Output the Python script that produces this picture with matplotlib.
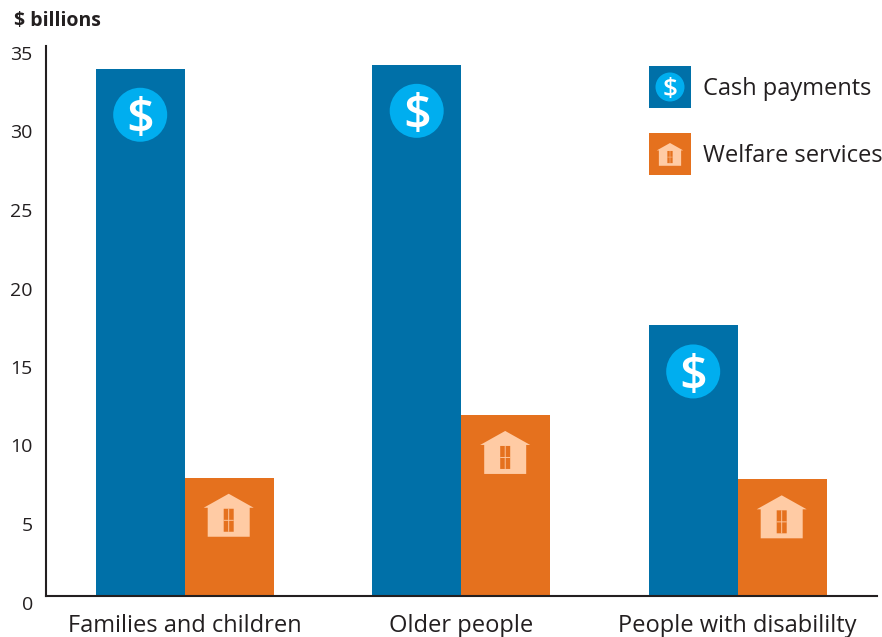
import numpy as np
import matplotlib
matplotlib.use('Agg')
import matplotlib.pyplot as plt
from matplotlib.patches import Circle, Polygon, Rectangle
from matplotlib.transforms import IdentityTransform

plt.rcParams['font.family'] = ['Open Sans', 'DejaVu Sans']

categories = ['Families and children', 'Older people', 'People with disabililty']
cash_payments = [33.55, 33.8, 17.2]
welfare_services = [7.5, 11.5, 7.4]
y_ticks = [0, 5, 10, 15, 20, 25, 30, 35]
legend_labels = ['Cash payments', 'Welfare services']

BLUE = '#0070A8'
ORANGE = '#E5711E'
CYAN = '#00AEEF'
PEACH = '#FFCBA4'
DARK = '#231F20'
W, H = 882, 637


def px(x, y):
    # image pixels (y down) to display coords (y up)
    return x, H - y


def draw_dollar(fig, cx, cy, r, size):
    fig.add_artist(Circle(px(cx, cy), r, transform=IdentityTransform(), fc=CYAN, ec='none'))
    fig.text(*px(cx, cy), '$', transform=IdentityTransform(), color='white', fontsize=size,
             fontweight=600, ha='center', va='center_baseline')


def draw_house(fig, cx, top, s=1.0):
    # outline measured from apex, s scales the legend version
    outline = [(0, 0), (25, 14), (21, 14), (21, 43), (-21, 43), (-21, 14), (-25, 14)]
    pts = [px(cx + a * s, top + b * s) for a, b in outline]
    fig.add_artist(Polygon(pts, transform=IdentityTransform(), fc=PEACH, ec='none'))
    x0, y0 = px(cx - 5 * s, top + 38 * s)
    fig.add_artist(Rectangle((x0, y0), 10 * s, 23 * s, transform=IdentityTransform(), fc=ORANGE, ec='none', snap=False))
    lw = 0.9 * s
    x0, y0 = px(cx - lw / 2, top + 38 * s)
    fig.add_artist(Rectangle((x0, y0), lw, 23 * s, transform=IdentityTransform(), fc=PEACH, ec='none', snap=False))
    x0, y0 = px(cx - 5 * s, top + 27 * s)
    fig.add_artist(Rectangle((x0, y0), 10 * s, lw, transform=IdentityTransform(), fc=PEACH, ec='none', snap=False))


fig = plt.figure(figsize=(W / 100, H / 100), dpi=100)
ax = fig.add_axes([46 / W, (H - 595.5) / H, (877 - 46) / W, (595.5 - 46) / H])

x = np.arange(len(categories))
width = 89 / 276.5
ax.bar(x - width / 2, cash_payments, width, color=BLUE)
ax.bar(x + width / 2, welfare_services, width, color=ORANGE)

ax.set_xlim(-138.7 / 276.5, (877 - 184.7) / 276.5)
ax.set_ylim(0, 35)
ax.set_yticks(y_ticks)
ax.set_xticks(x)
ax.set_xticklabels(categories, fontsize=17, color=DARK)
ax.tick_params(axis='both', length=0)
ax.tick_params(axis='y', labelsize=14, labelcolor=DARK, pad=9.5)
ax.tick_params(axis='x', pad=13)
for lab in ax.get_yticklabels():
    lab.set_verticalalignment('top')
for side in ['top', 'right']:
    ax.spines[side].set_visible(False)
for side in ['left', 'bottom']:
    ax.spines[side].set_linewidth(1.5)
    ax.spines[side].set_color(DARK)

fig.text(14 / W, (H - 26) / H, '$ billions', fontsize=14, fontweight='bold', color=DARK)

# icons sit a fixed pixel distance under each bar top
fig.canvas.draw()
for i in range(len(categories)):
    xd, yd = ax.transData.transform((i - width / 2, cash_payments[i]))
    draw_dollar(fig, xd, H - yd + 46, 27, 35)
    xd, yd = ax.transData.transform((i + width / 2, welfare_services[i]))
    draw_house(fig, xd - 0.5, H - yd + 16)

# legend
for y_top, color, label in zip([66, 133], [BLUE, ORANGE], legend_labels):
    x0, y0 = px(649, y_top + 42)
    fig.add_artist(Rectangle((x0, y0), 42, 42, transform=IdentityTransform(), fc=color, ec='none'))
    fig.text(*px(703, y_top + 23), label, transform=IdentityTransform(), fontsize=17, color=DARK,
             va='center')
draw_dollar(fig, 670, 87, 14.5, 19)
draw_house(fig, 670, 143, 0.53)

plt.savefig('out.png', dpi=100)
